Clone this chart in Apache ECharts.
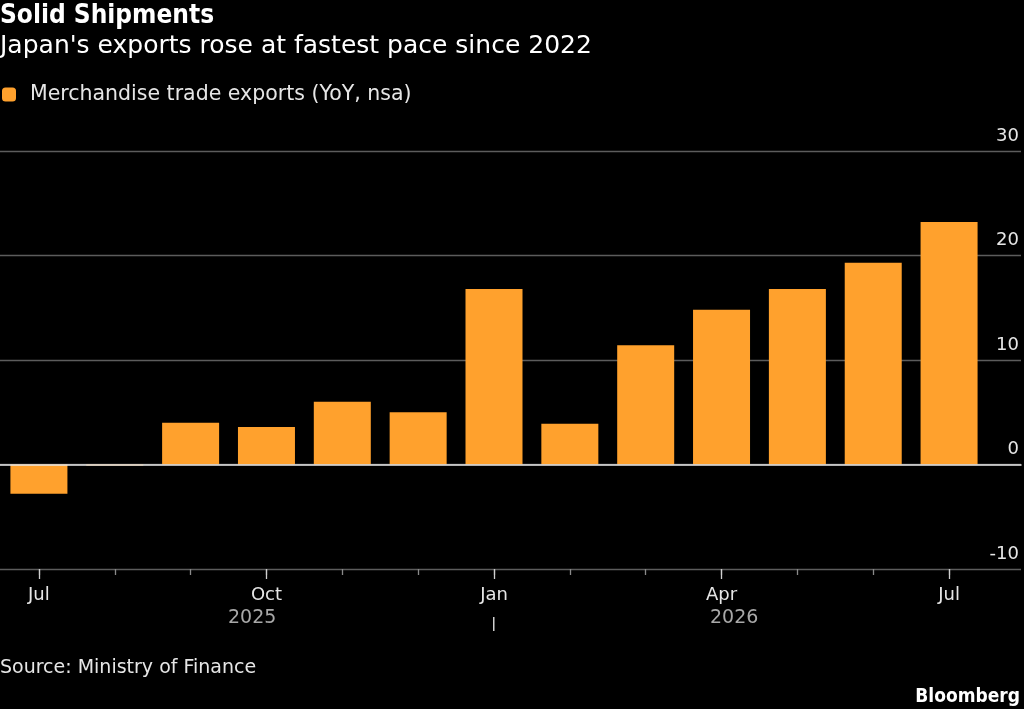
<!DOCTYPE html>
<html>
<head>
<meta charset="utf-8">
<script src="https://cdn.jsdelivr.net/npm/echarts@6/dist/echarts.min.js"></script>
<style>
  html, body { margin: 0; padding: 0; background: #000; }
  #chart { width: 1024px; height: 709px; }
</style>
</head>
<body>
<div id="chart"></div>
<script>
var FONT = "'DejaVu Sans', sans-serif"
var FONT_BOLD = "'DejaVu Sans Condensed', 'DejaVu Sans', sans-serif"

// data
var months = ['Jul', 'Aug', 'Sep', 'Oct', 'Nov', 'Dec', 'Jan', 'Feb', 'Mar', 'Apr', 'May', 'Jun', 'Jul']
var exportsYoY = [-2.8, -0.1, 4.0, 3.6, 6.0, 5.0, 16.8, 3.9, 11.4, 14.8, 16.8, 19.3, 23.2]
var yTicks = [-10, 0, 10, 20, 30]
var seriesName = 'Merchandise trade exports (YoY, nsa)'
var years = ['2025', '2026']

var chart = echarts.init(document.getElementById('chart'))

function isQuarter(i) {
  return i % 3 == 0
}

var option = {
  backgroundColor: '#000',
  animation: false,
  textStyle: { fontFamily: FONT },
  title: [
    { text: 'Solid Shipments', left: 0, top: 3, padding: 0,
      textStyle: { color: '#fff', fontSize: 26, fontWeight: 'bold', fontFamily: FONT_BOLD } },
    { text: "Japan's exports rose at fastest pace since 2022", left: 0, top: 34, padding: 0,
      textStyle: { color: '#fff', fontSize: 25, fontWeight: 'normal', fontFamily: FONT } },
    { text: 'Source: Ministry of Finance', left: 0, top: 659, padding: 0,
      textStyle: { color: '#e6e6e6', fontSize: 19, fontWeight: 'normal', fontFamily: FONT } },
    { text: 'Bloomberg', right: 4, top: 688, padding: 0,
      textStyle: { color: '#fff', fontSize: 19, fontWeight: 'bold', fontFamily: FONT_BOLD } }
  ],
  legend: {
    left: 2, top: 84, padding: 0,
    icon: 'roundRect', itemWidth: 14, itemHeight: 14, itemGap: 10,
    textStyle: { color: '#e6e6e6', fontSize: 20.5, fontFamily: FONT, padding: [0, 0, 0, 9] },
    data: [seriesName]
  },
  graphic: [
    { type: 'text', left: 228, top: 609, style: { text: years[0], fill: '#a8a8a8', font: '19px ' + FONT } },
    { type: 'text', left: 710, top: 609, style: { text: years[1], fill: '#a8a8a8', font: '19px ' + FONT } },
    { type: 'rect', shape: { x: 493, y: 617, width: 1.5, height: 14 }, style: { fill: '#cfcfcf' } }
  ],
  grid: [
    { left: 1, right: 37, top: 151, bottom: 140 },
    { left: 0, right: 3, top: 151, bottom: 140 }
  ],
  xAxis: [
    {
      type: 'category', gridIndex: 0, data: months, position: 'bottom',
      axisLine: { show: true, onZero: false, lineStyle: { color: '#5c5c5c', width: 1.3, opacity: 0 } },
      axisTick: { show: true, interval: 0, alignWithLabel: true, length: 6,
        lineStyle: { color: '#8a8a8a', width: 1.3 } },
      axisLabel: {
        color: '#e6e6e6', fontSize: 18, margin: 17,
        interval: function (i) { return isQuarter(i) }
      }
    },
    {
      type: 'category', gridIndex: 0, data: months, position: 'bottom',
      axisLine: { show: true, onZero: false, lineStyle: { color: '#5c5c5c', width: 1.3, opacity: 0 } },
      axisTick: { show: true, alignWithLabel: true, length: 10,
        lineStyle: { color: '#cfcfcf', width: 1.3 },
        interval: function (i) { return isQuarter(i) } },
      axisLabel: { show: false }
    },
    {
      type: 'value', gridIndex: 1, min: 0, max: 1, z: 5,
      axisLine: { show: true, onZero: true, lineStyle: { color: '#e8e8e8', width: 1.5 } },
      axisTick: { show: false }, axisLabel: { show: false }, splitLine: { show: false }
    }
  ],
  yAxis: [
    { type: 'value', gridIndex: 0, min: yTicks[0], max: yTicks[yTicks.length - 1], interval: 10, show: false },
    {
      type: 'value', gridIndex: 1, position: 'right',
      min: yTicks[0], max: yTicks[yTicks.length - 1], interval: 10,
      axisLine: { show: false }, axisTick: { show: false },
      splitLine: { lineStyle: { color: '#5c5c5c', width: 1.3 } },
      axisLabel: {
        inside: true, margin: 2, color: '#e6e6e6', fontSize: 18,
        verticalAlign: 'bottom', padding: [0, 0, 6, 0]
      }
    }
  ],
  series: [
    {
      name: seriesName, type: 'bar', xAxisIndex: 0, yAxisIndex: 0,
      data: exportsYoY, barWidth: 57,
      itemStyle: { color: '#ffa12d' }
    }
  ]
}

chart.setOption(option)
</script>
</body>
</html>
